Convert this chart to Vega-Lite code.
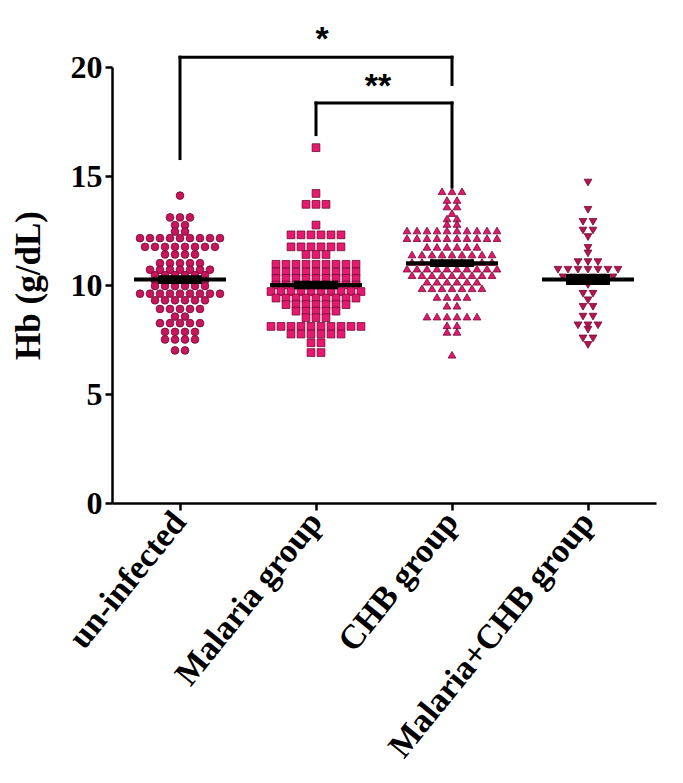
{
"$schema":"https://vega.github.io/schema/vega-lite/v6.json",
"width":544,"height":436,
"autosize":{"type":"none"},
"padding":{"left":112,"top":67,"right":27,"bottom":280},
"background":"white",
"config":{"view":{"stroke":null}},
"datasets":{
"points":[
{"group":"un-infected","Hb":14.1},
{"group":"un-infected","Hb":13.1},{"group":"un-infected","Hb":13.1},{"group":"un-infected","Hb":13.1},
{"group":"un-infected","Hb":12.75},{"group":"un-infected","Hb":12.75},
{"group":"un-infected","Hb":12.45},{"group":"un-infected","Hb":12.45},
{"group":"un-infected","Hb":12.15},{"group":"un-infected","Hb":12.15},{"group":"un-infected","Hb":12.15},{"group":"un-infected","Hb":12.15},{"group":"un-infected","Hb":12.15},{"group":"un-infected","Hb":12.15},{"group":"un-infected","Hb":12.15},{"group":"un-infected","Hb":12.15},{"group":"un-infected","Hb":12.15},
{"group":"un-infected","Hb":11.75},{"group":"un-infected","Hb":11.75},{"group":"un-infected","Hb":11.75},{"group":"un-infected","Hb":11.75},{"group":"un-infected","Hb":11.75},{"group":"un-infected","Hb":11.75},{"group":"un-infected","Hb":11.75},{"group":"un-infected","Hb":11.75},
{"group":"un-infected","Hb":11.4},{"group":"un-infected","Hb":11.4},{"group":"un-infected","Hb":11.4},{"group":"un-infected","Hb":11.4},
{"group":"un-infected","Hb":11.0},{"group":"un-infected","Hb":11.0},{"group":"un-infected","Hb":11.0},{"group":"un-infected","Hb":11.0},{"group":"un-infected","Hb":11.0},
{"group":"un-infected","Hb":10.7},{"group":"un-infected","Hb":10.7},{"group":"un-infected","Hb":10.7},{"group":"un-infected","Hb":10.7},{"group":"un-infected","Hb":10.7},{"group":"un-infected","Hb":10.7},{"group":"un-infected","Hb":10.7},
{"group":"un-infected","Hb":10.45},{"group":"un-infected","Hb":10.45},{"group":"un-infected","Hb":10.45},{"group":"un-infected","Hb":10.45},{"group":"un-infected","Hb":10.45},{"group":"un-infected","Hb":10.45},
{"group":"un-infected","Hb":10.2},{"group":"un-infected","Hb":10.2},{"group":"un-infected","Hb":10.2},{"group":"un-infected","Hb":10.2},{"group":"un-infected","Hb":10.2},{"group":"un-infected","Hb":10.2},
{"group":"un-infected","Hb":9.95},{"group":"un-infected","Hb":9.95},{"group":"un-infected","Hb":9.95},{"group":"un-infected","Hb":9.95},{"group":"un-infected","Hb":9.95},{"group":"un-infected","Hb":9.95},
{"group":"un-infected","Hb":9.6},{"group":"un-infected","Hb":9.6},{"group":"un-infected","Hb":9.6},{"group":"un-infected","Hb":9.6},{"group":"un-infected","Hb":9.6},{"group":"un-infected","Hb":9.6},{"group":"un-infected","Hb":9.6},{"group":"un-infected","Hb":9.6},{"group":"un-infected","Hb":9.6},
{"group":"un-infected","Hb":9.3},{"group":"un-infected","Hb":9.3},{"group":"un-infected","Hb":9.3},{"group":"un-infected","Hb":9.3},{"group":"un-infected","Hb":9.3},{"group":"un-infected","Hb":9.3},
{"group":"un-infected","Hb":8.9},{"group":"un-infected","Hb":8.9},{"group":"un-infected","Hb":8.9},{"group":"un-infected","Hb":8.9},{"group":"un-infected","Hb":8.9},
{"group":"un-infected","Hb":8.55},{"group":"un-infected","Hb":8.55},
{"group":"un-infected","Hb":8.25},{"group":"un-infected","Hb":8.25},{"group":"un-infected","Hb":8.25},{"group":"un-infected","Hb":8.25},{"group":"un-infected","Hb":8.25},
{"group":"un-infected","Hb":7.85},{"group":"un-infected","Hb":7.85},{"group":"un-infected","Hb":7.85},{"group":"un-infected","Hb":7.85},
{"group":"un-infected","Hb":7.5},{"group":"un-infected","Hb":7.5},{"group":"un-infected","Hb":7.5},{"group":"un-infected","Hb":7.5},
{"group":"un-infected","Hb":7.0},{"group":"un-infected","Hb":7.0},

{"group":"Malaria group","Hb":16.3},
{"group":"Malaria group","Hb":14.2},
{"group":"Malaria group","Hb":13.7},{"group":"Malaria group","Hb":13.7},{"group":"Malaria group","Hb":13.7},
{"group":"Malaria group","Hb":12.75},
{"group":"Malaria group","Hb":12.3},{"group":"Malaria group","Hb":12.3},{"group":"Malaria group","Hb":12.3},{"group":"Malaria group","Hb":12.3},{"group":"Malaria group","Hb":12.3},{"group":"Malaria group","Hb":12.3},
{"group":"Malaria group","Hb":11.75},{"group":"Malaria group","Hb":11.75},{"group":"Malaria group","Hb":11.75},{"group":"Malaria group","Hb":11.75},{"group":"Malaria group","Hb":11.75},{"group":"Malaria group","Hb":11.75},
{"group":"Malaria group","Hb":11.4},{"group":"Malaria group","Hb":11.4},{"group":"Malaria group","Hb":11.4},
{"group":"Malaria group","Hb":10.95},{"group":"Malaria group","Hb":10.95},{"group":"Malaria group","Hb":10.95},{"group":"Malaria group","Hb":10.95},{"group":"Malaria group","Hb":10.95},{"group":"Malaria group","Hb":10.95},{"group":"Malaria group","Hb":10.95},{"group":"Malaria group","Hb":10.95},{"group":"Malaria group","Hb":10.95},
{"group":"Malaria group","Hb":10.6},{"group":"Malaria group","Hb":10.6},{"group":"Malaria group","Hb":10.6},{"group":"Malaria group","Hb":10.6},{"group":"Malaria group","Hb":10.6},{"group":"Malaria group","Hb":10.6},{"group":"Malaria group","Hb":10.6},{"group":"Malaria group","Hb":10.6},{"group":"Malaria group","Hb":10.6},
{"group":"Malaria group","Hb":10.3},{"group":"Malaria group","Hb":10.3},{"group":"Malaria group","Hb":10.3},{"group":"Malaria group","Hb":10.3},{"group":"Malaria group","Hb":10.3},{"group":"Malaria group","Hb":10.3},{"group":"Malaria group","Hb":10.3},{"group":"Malaria group","Hb":10.3},{"group":"Malaria group","Hb":10.3},
{"group":"Malaria group","Hb":10.0},{"group":"Malaria group","Hb":10.0},{"group":"Malaria group","Hb":10.0},{"group":"Malaria group","Hb":10.0},{"group":"Malaria group","Hb":10.0},{"group":"Malaria group","Hb":10.0},{"group":"Malaria group","Hb":10.0},{"group":"Malaria group","Hb":10.0},{"group":"Malaria group","Hb":10.0},
{"group":"Malaria group","Hb":9.7},{"group":"Malaria group","Hb":9.7},{"group":"Malaria group","Hb":9.7},{"group":"Malaria group","Hb":9.7},{"group":"Malaria group","Hb":9.7},{"group":"Malaria group","Hb":9.7},{"group":"Malaria group","Hb":9.7},{"group":"Malaria group","Hb":9.7},{"group":"Malaria group","Hb":9.7},{"group":"Malaria group","Hb":9.7},
{"group":"Malaria group","Hb":9.4},{"group":"Malaria group","Hb":9.4},{"group":"Malaria group","Hb":9.4},{"group":"Malaria group","Hb":9.4},{"group":"Malaria group","Hb":9.4},{"group":"Malaria group","Hb":9.4},{"group":"Malaria group","Hb":9.4},{"group":"Malaria group","Hb":9.4},{"group":"Malaria group","Hb":9.4},
{"group":"Malaria group","Hb":9.1},{"group":"Malaria group","Hb":9.1},{"group":"Malaria group","Hb":9.1},{"group":"Malaria group","Hb":9.1},{"group":"Malaria group","Hb":9.1},{"group":"Malaria group","Hb":9.1},{"group":"Malaria group","Hb":9.1},
{"group":"Malaria group","Hb":8.8},{"group":"Malaria group","Hb":8.8},{"group":"Malaria group","Hb":8.8},{"group":"Malaria group","Hb":8.8},{"group":"Malaria group","Hb":8.8},
{"group":"Malaria group","Hb":8.5},{"group":"Malaria group","Hb":8.5},{"group":"Malaria group","Hb":8.5},
{"group":"Malaria group","Hb":8.1},{"group":"Malaria group","Hb":8.1},{"group":"Malaria group","Hb":8.1},{"group":"Malaria group","Hb":8.1},{"group":"Malaria group","Hb":8.1},{"group":"Malaria group","Hb":8.1},{"group":"Malaria group","Hb":8.1},{"group":"Malaria group","Hb":8.1},{"group":"Malaria group","Hb":8.1},{"group":"Malaria group","Hb":8.1},
{"group":"Malaria group","Hb":7.75},{"group":"Malaria group","Hb":7.75},{"group":"Malaria group","Hb":7.75},{"group":"Malaria group","Hb":7.75},{"group":"Malaria group","Hb":7.75},{"group":"Malaria group","Hb":7.75},
{"group":"Malaria group","Hb":7.35},{"group":"Malaria group","Hb":7.35},
{"group":"Malaria group","Hb":6.9},{"group":"Malaria group","Hb":6.9},

{"group":"CHB group","Hb":14.3},{"group":"CHB group","Hb":14.3},{"group":"CHB group","Hb":14.3},
{"group":"CHB group","Hb":13.9},{"group":"CHB group","Hb":13.9},
{"group":"CHB group","Hb":13.6},{"group":"CHB group","Hb":13.6},
{"group":"CHB group","Hb":13.3},
{"group":"CHB group","Hb":13.05},{"group":"CHB group","Hb":13.05},
{"group":"CHB group","Hb":12.8},{"group":"CHB group","Hb":12.8},
{"group":"CHB group","Hb":12.5},{"group":"CHB group","Hb":12.5},{"group":"CHB group","Hb":12.5},{"group":"CHB group","Hb":12.5},{"group":"CHB group","Hb":12.5},{"group":"CHB group","Hb":12.5},{"group":"CHB group","Hb":12.5},{"group":"CHB group","Hb":12.5},{"group":"CHB group","Hb":12.5},{"group":"CHB group","Hb":12.5},
{"group":"CHB group","Hb":12.15},{"group":"CHB group","Hb":12.15},{"group":"CHB group","Hb":12.15},{"group":"CHB group","Hb":12.15},{"group":"CHB group","Hb":12.15},{"group":"CHB group","Hb":12.15},{"group":"CHB group","Hb":12.15},{"group":"CHB group","Hb":12.15},{"group":"CHB group","Hb":12.15},{"group":"CHB group","Hb":12.15},
{"group":"CHB group","Hb":11.75},{"group":"CHB group","Hb":11.75},{"group":"CHB group","Hb":11.75},{"group":"CHB group","Hb":11.75},{"group":"CHB group","Hb":11.75},{"group":"CHB group","Hb":11.75},
{"group":"CHB group","Hb":11.4},{"group":"CHB group","Hb":11.4},{"group":"CHB group","Hb":11.4},{"group":"CHB group","Hb":11.4},{"group":"CHB group","Hb":11.4},{"group":"CHB group","Hb":11.4},{"group":"CHB group","Hb":11.4},{"group":"CHB group","Hb":11.4},{"group":"CHB group","Hb":11.4},
{"group":"CHB group","Hb":11.05},{"group":"CHB group","Hb":11.05},{"group":"CHB group","Hb":11.05},{"group":"CHB group","Hb":11.05},{"group":"CHB group","Hb":11.05},{"group":"CHB group","Hb":11.05},{"group":"CHB group","Hb":11.05},{"group":"CHB group","Hb":11.05},{"group":"CHB group","Hb":11.05},
{"group":"CHB group","Hb":10.75},{"group":"CHB group","Hb":10.75},{"group":"CHB group","Hb":10.75},{"group":"CHB group","Hb":10.75},{"group":"CHB group","Hb":10.75},{"group":"CHB group","Hb":10.75},{"group":"CHB group","Hb":10.75},{"group":"CHB group","Hb":10.75},{"group":"CHB group","Hb":10.75},{"group":"CHB group","Hb":10.75},
{"group":"CHB group","Hb":10.45},{"group":"CHB group","Hb":10.45},{"group":"CHB group","Hb":10.45},{"group":"CHB group","Hb":10.45},{"group":"CHB group","Hb":10.45},{"group":"CHB group","Hb":10.45},{"group":"CHB group","Hb":10.45},{"group":"CHB group","Hb":10.45},{"group":"CHB group","Hb":10.45},
{"group":"CHB group","Hb":10.15},{"group":"CHB group","Hb":10.15},{"group":"CHB group","Hb":10.15},{"group":"CHB group","Hb":10.15},{"group":"CHB group","Hb":10.15},{"group":"CHB group","Hb":10.15},
{"group":"CHB group","Hb":9.85},{"group":"CHB group","Hb":9.85},{"group":"CHB group","Hb":9.85},{"group":"CHB group","Hb":9.85},{"group":"CHB group","Hb":9.85},{"group":"CHB group","Hb":9.85},{"group":"CHB group","Hb":9.85},
{"group":"CHB group","Hb":9.45},{"group":"CHB group","Hb":9.45},{"group":"CHB group","Hb":9.45},{"group":"CHB group","Hb":9.45},
{"group":"CHB group","Hb":9.05},{"group":"CHB group","Hb":9.05},
{"group":"CHB group","Hb":8.55},{"group":"CHB group","Hb":8.55},{"group":"CHB group","Hb":8.55},{"group":"CHB group","Hb":8.55},{"group":"CHB group","Hb":8.55},{"group":"CHB group","Hb":8.55},
{"group":"CHB group","Hb":8.15},{"group":"CHB group","Hb":8.15},
{"group":"CHB group","Hb":7.85},{"group":"CHB group","Hb":7.85},
{"group":"CHB group","Hb":6.8},

{"group":"Malaria+CHB group","Hb":14.7},
{"group":"Malaria+CHB group","Hb":13.45},
{"group":"Malaria+CHB group","Hb":12.9},{"group":"Malaria+CHB group","Hb":12.9},
{"group":"Malaria+CHB group","Hb":12.5},{"group":"Malaria+CHB group","Hb":12.5},
{"group":"Malaria+CHB group","Hb":12.2},
{"group":"Malaria+CHB group","Hb":11.7},
{"group":"Malaria+CHB group","Hb":11.45},
{"group":"Malaria+CHB group","Hb":11.05},{"group":"Malaria+CHB group","Hb":11.05},{"group":"Malaria+CHB group","Hb":11.05},
{"group":"Malaria+CHB group","Hb":10.7},{"group":"Malaria+CHB group","Hb":10.7},{"group":"Malaria+CHB group","Hb":10.7},{"group":"Malaria+CHB group","Hb":10.7},{"group":"Malaria+CHB group","Hb":10.7},{"group":"Malaria+CHB group","Hb":10.7},{"group":"Malaria+CHB group","Hb":10.7},
{"group":"Malaria+CHB group","Hb":10.35},{"group":"Malaria+CHB group","Hb":10.35},{"group":"Malaria+CHB group","Hb":10.35},{"group":"Malaria+CHB group","Hb":10.35},{"group":"Malaria+CHB group","Hb":10.35},{"group":"Malaria+CHB group","Hb":10.35},
{"group":"Malaria+CHB group","Hb":10.0},
{"group":"Malaria+CHB group","Hb":9.6},{"group":"Malaria+CHB group","Hb":9.6},
{"group":"Malaria+CHB group","Hb":9.3},
{"group":"Malaria+CHB group","Hb":9.0},{"group":"Malaria+CHB group","Hb":9.0},
{"group":"Malaria+CHB group","Hb":8.55},{"group":"Malaria+CHB group","Hb":8.55},
{"group":"Malaria+CHB group","Hb":8.15},{"group":"Malaria+CHB group","Hb":8.15},{"group":"Malaria+CHB group","Hb":8.15},
{"group":"Malaria+CHB group","Hb":7.95},
{"group":"Malaria+CHB group","Hb":7.55},{"group":"Malaria+CHB group","Hb":7.55},
{"group":"Malaria+CHB group","Hb":7.25}
],
"summary":[
{"group":"un-infected","mean":10.25,"lo":10.05,"hi":10.45},
{"group":"Malaria group","mean":10.0,"lo":9.8,"hi":10.2},
{"group":"CHB group","mean":11.0,"lo":10.82,"hi":11.18},
{"group":"Malaria+CHB group","mean":10.25,"lo":10.0,"hi":10.5}
],
"brackets":[
{"a":"un-infected","b":"CHB group","y1":20.45,"y2":20.45},
{"a":"un-infected","b":"un-infected","y1":20.45,"y2":15.8},
{"a":"CHB group","b":"CHB group","y1":20.45,"y2":19.2},
{"a":"Malaria group","b":"CHB group","y1":18.35,"y2":18.35},
{"a":"Malaria group","b":"Malaria group","y1":18.35,"y2":16.9},
{"a":"CHB group","b":"CHB group","y1":18.35,"y2":14.5}
]
},
"layer":[
{
"data":{"name":"points"},
"transform":[
{"window":[{"op":"row_number","as":"k"},{"op":"count","as":"n"}],"groupby":["group","Hb"],"frame":[null,null]},
{"calculate":"(datum.k - (datum.n + 1) / 2) * 10","as":"off"}
],
"mark":{"type":"point","filled":true,"size":60,"stroke":"#6e0b33","strokeWidth":0.8,"opacity":1,"clip":false},
"encoding":{
"x":{"field":"group","type":"nominal","sort":["un-infected","Malaria group","CHB group","Malaria+CHB group"],
"scale":{"domain":["un-infected","Malaria group","CHB group","Malaria+CHB group"],"paddingInner":0,"paddingOuter":0},
"axis":{"title":null,"labelAngle":-51,"labelAlign":"right","labelBaseline":"middle","labelLimit":0,"labelFont":"Liberation Serif","labelFontWeight":"bold","labelFontSize":34,"labelColor":"black","labelPadding":6,"domainColor":"black","domainWidth":2.5,"tickColor":"black","tickWidth":2.5,"tickSize":7,"grid":false}},
"xOffset":{"field":"off","type":"quantitative","scale":{"domain":[-68,68]}},
"y":{"field":"Hb","type":"quantitative","scale":{"domain":[0,20],"nice":false,"zero":true},
"axis":{"title":"Hb (g/dL)","values":[0,5,10,15,20],"grid":false,"labelFont":"Liberation Serif","labelFontWeight":"bold","labelFontSize":32,"labelColor":"black","labelPadding":3,"domainColor":"black","domainWidth":2.5,"tickColor":"black","tickWidth":2.5,"tickSize":7,"titleFont":"Liberation Serif","titleFontWeight":"bold","titleFontSize":35,"titleColor":"black","titlePadding":24}},
"fill":{"field":"group","type":"nominal","scale":{"domain":["un-infected","Malaria group","CHB group","Malaria+CHB group"],"range":["#c8155c","#e8186f","#e3176b","#b8134f"]},"legend":null},
"shape":{"field":"group","type":"nominal","scale":{"domain":["un-infected","Malaria group","CHB group","Malaria+CHB group"],"range":["circle","square","triangle-up","triangle-down"]},"legend":null}
}
},
{
"data":{"name":"summary"},
"mark":{"type":"tick","color":"black","thickness":4,"size":92,"orient":"horizontal","opacity":1},
"encoding":{"x":{"field":"group","type":"nominal"},"y":{"field":"mean","type":"quantitative"}}
},
{
"data":{"name":"summary"},
"mark":{"type":"bar","color":"black","size":44},
"encoding":{"x":{"field":"group","type":"nominal"},"y":{"field":"lo","type":"quantitative"},"y2":{"field":"hi"}}
},
{
"data":{"name":"brackets"},
"mark":{"type":"rule","color":"black","strokeWidth":3,"clip":false,"strokeCap":"square"},
"encoding":{"x":{"field":"a","type":"nominal"},"x2":{"field":"b"},"y":{"field":"y1","type":"quantitative"},"y2":{"field":"y2"}}
},
{
"data":{"values":[{"g":"Malaria group","y":21.5,"t":"*"}]},
"mark":{"type":"text","font":"Liberation Sans","fontWeight":"bold","fontSize":34,"baseline":"middle","align":"center","dx":6,"dy":6,"clip":false,"color":"black"},
"encoding":{"x":{"field":"g","type":"nominal"},"y":{"field":"y","type":"quantitative"},"text":{"field":"t"}}
},
{
"data":{"values":[{"g":"Malaria group","y":19.35,"t":"**"}]},
"mark":{"type":"text","font":"Liberation Sans","fontWeight":"bold","fontSize":34,"baseline":"middle","align":"center","dx":62,"dy":6,"clip":false,"color":"black"},
"encoding":{"x":{"field":"g","type":"nominal"},"y":{"field":"y","type":"quantitative"},"text":{"field":"t"}}
}
]
}
